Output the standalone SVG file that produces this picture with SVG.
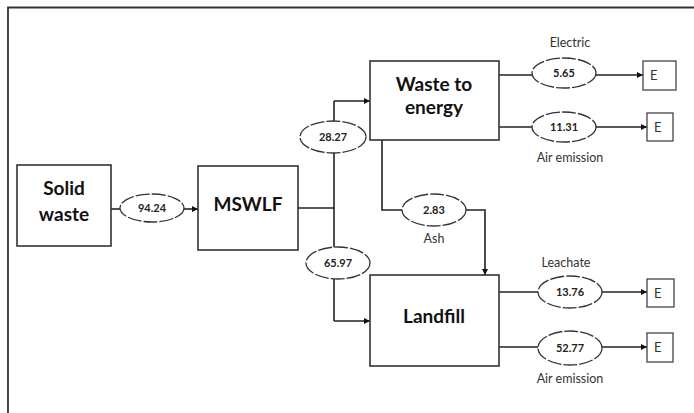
<svg xmlns="http://www.w3.org/2000/svg" width="694" height="413" viewBox="0 0 694 413">
<defs>
<style>
.box{fill:#fff;stroke:#333;stroke-width:1.6}
.eb{fill:#fff;stroke:#444;stroke-width:1.3}
.ell{fill:#fff;stroke:#333;stroke-width:1.3;stroke-dasharray:14 2}
.ln{fill:none;stroke:#222;stroke-width:1.6}
.big{font-family:Lato,"Liberation Sans",sans-serif;font-weight:bold;font-size:19px;fill:#111;text-anchor:middle}
.num{font-family:Lato,"Liberation Sans",sans-serif;font-weight:bold;font-size:11px;fill:#222;text-anchor:middle}
.lbl{font-family:Lato,"Liberation Sans",sans-serif;font-size:12.5px;fill:#333;text-anchor:middle}
.e{font-family:Lato,"Liberation Sans",sans-serif;font-size:13px;fill:#333}
</style>
<marker id="ah" viewBox="0 0 10 10" refX="10" refY="5" markerWidth="6" markerHeight="6" markerUnits="userSpaceOnUse" orient="auto">
<path d="M0,0 L10,5 L0,10 z" fill="#111"/>
</marker>
</defs>
<rect width="694" height="413" fill="#fff"/>
<g id="frame">
<path d="M8,413 V7.5 H694" fill="none" stroke="#333" stroke-width="1.8"/>
</g>
<g id="connectors">
<path class="ln" d="M111,209 H120"/>
<path class="ln" d="M184,209 H198" marker-end="url(#ah)"/>
<path class="ln" d="M298,208 H334" stroke-width="2.2"/>
<path class="ln" d="M334,101 V321"/>
<path class="ln" d="M334,101 H370" marker-end="url(#ah)"/>
<path class="ln" d="M334,321 H370" marker-end="url(#ah)"/>
<path class="ln" d="M499,75 H532"/>
<path class="ln" d="M596,75 H643" marker-end="url(#ah)"/>
<path class="ln" d="M499,127 H532"/>
<path class="ln" d="M596,127 H647" marker-end="url(#ah)"/>
<path class="ln" d="M382,140 V210 H402"/>
<path class="ln" d="M466,210 H485 V275" marker-end="url(#ah)"/>
<path class="ln" d="M499,292 H538"/>
<path class="ln" d="M602,292 H647" marker-end="url(#ah)"/>
<path class="ln" d="M499,347 H538"/>
<path class="ln" d="M602,347 H647" marker-end="url(#ah)"/>
</g>
<g id="solid-waste">
<rect class="box" x="17" y="165" width="94" height="81"/>
<text class="big" x="64" y="195">Solid</text>
<text class="big" x="64" y="221">waste</text>
</g>
<g id="flow-94">
<ellipse class="ell" cx="152" cy="208" rx="32" ry="14"/>
<text class="num" x="152" y="212">94.24</text>
</g>
<g id="mswlf">
<rect class="box" x="198" y="166" width="100" height="84"/>
<text class="big" x="248" y="211">MSWLF</text>
</g>
<g id="flow-28">
<ellipse class="ell" cx="333" cy="137" rx="33" ry="16"/>
<text class="num" x="333" y="141">28.27</text>
</g>
<g id="flow-65">
<ellipse class="ell" cx="338" cy="263" rx="32" ry="16"/>
<text class="num" x="338" y="267">65.97</text>
</g>
<g id="waste-to-energy">
<rect class="box" x="370" y="61" width="129" height="79"/>
<text class="big" x="434" y="91">Waste to</text>
<text class="big" x="434" y="114">energy</text>
</g>
<g id="landfill">
<rect class="box" x="370" y="275" width="129" height="91"/>
<text class="big" x="434" y="323">Landfill</text>
</g>
<g id="flow-ash">
<ellipse class="ell" cx="434" cy="210" rx="32" ry="16"/>
<text class="num" x="434" y="214">2.83</text>
<text class="lbl" x="434" y="243">Ash</text>
</g>
<g id="flow-electric">
<text class="lbl" x="570" y="47">Electric</text>
<ellipse class="ell" cx="564" cy="73" rx="32" ry="15"/>
<text class="num" x="564" y="77">5.65</text>
</g>
<g id="flow-air1">
<ellipse class="ell" cx="564" cy="127" rx="32" ry="15"/>
<text class="num" x="564" y="131">11.31</text>
<text class="lbl" x="570" y="162">Air emission</text>
</g>
<g id="flow-leachate">
<text class="lbl" x="566" y="267">Leachate</text>
<ellipse class="ell" cx="570" cy="292" rx="32" ry="16"/>
<text class="num" x="570" y="296">13.76</text>
</g>
<g id="flow-air2">
<ellipse class="ell" cx="570" cy="348" rx="32" ry="17"/>
<text class="num" x="570" y="352">52.77</text>
<text class="lbl" x="570" y="383">Air emission</text>
</g>
<g id="e1">
<rect class="eb" x="643" y="61" width="33" height="29"/>
<text class="e" x="650" y="80">E</text>
</g>
<g id="e2">
<rect class="eb" x="647" y="113" width="26" height="28"/>
<text class="e" x="654" y="132">E</text>
</g>
<g id="e3">
<rect class="eb" x="647" y="279" width="27" height="28"/>
<text class="e" x="654" y="298">E</text>
</g>
<g id="e4">
<rect class="eb" x="647" y="333" width="26" height="29"/>
<text class="e" x="654" y="352">E</text>
</g>
</svg>
